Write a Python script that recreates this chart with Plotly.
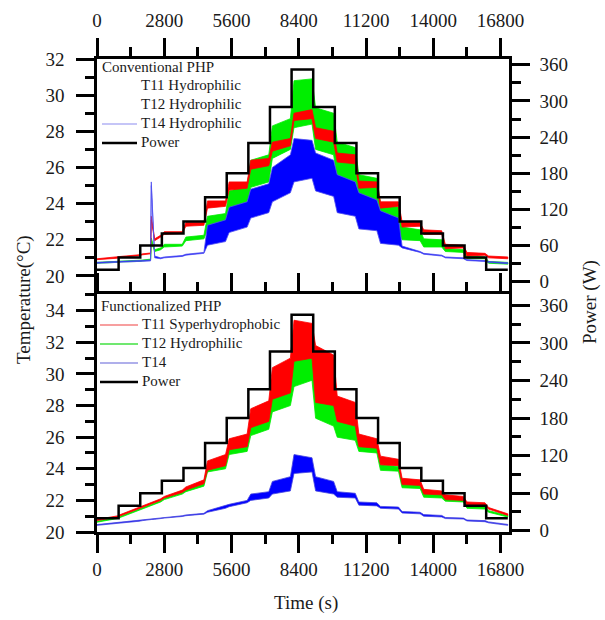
import plotly.graph_objects as go

# ---------------- data ----------------
TIME = [0, 850, 1000, 1750, 1900, 2230, 2260, 2400, 2650, 2800, 3550, 3700, 4450,
        4600, 5350, 5500, 6250, 6400, 7150, 7300, 8050, 8200, 8950, 9100, 9850,
        10000, 10750, 10900, 11650, 11800, 12550, 12700, 13450, 13600, 14350,
        14500, 15250, 15400, 16150, 16300, 17100]

# Conventional PHP (top panel) - lower / upper envelope of the noisy signals
CONV_T11_LO = [20.90, 20.98, 21.03, 21.12, 21.17, 21.22, 23.10, 21.95, 22.15, 22.30, 22.35, 22.75, 22.80,
               23.75, 23.85, 24.75, 24.85, 25.90, 26.10, 26.90, 27.20, 28.60, 28.70, 27.60, 27.40,
               26.30, 26.20, 24.85, 24.90, 23.75, 23.85, 22.70, 22.75, 22.30, 22.30, 21.50, 21.55,
               21.10, 21.15, 21.00, 20.95]
CONV_T11_HI = [20.95, 21.03, 21.08, 21.17, 21.22, 21.27, 23.30, 22.05, 22.25, 22.45, 22.45, 22.95, 22.95,
               24.15, 24.15, 25.20, 25.20, 26.40, 26.50, 27.40, 27.60, 29.00, 29.20, 28.20, 28.00,
               26.80, 26.70, 25.25, 25.20, 24.10, 24.10, 23.00, 22.95, 22.55, 22.50, 21.75, 21.70,
               21.30, 21.25, 21.10, 21.05]
CONV_T12_LO = [20.70, 20.75, 20.78, 20.80, 20.83, 20.88, 21.90, 21.35, 21.45, 21.60, 21.65, 21.95, 22.05,
               22.55, 22.70, 23.50, 23.80, 24.90, 25.20, 26.50, 27.00, 28.20, 28.40, 27.00, 26.70,
               25.30, 25.10, 24.00, 23.90, 22.60, 22.60, 22.00, 21.95, 21.60, 21.60, 21.35, 21.30,
               20.95, 20.95, 20.70, 20.65]
CONV_T12_HI = [20.75, 20.80, 20.83, 20.85, 20.88, 20.93, 22.10, 21.45, 21.55, 21.75, 21.75, 22.15, 22.25,
               23.30, 23.45, 24.70, 24.95, 26.40, 26.70, 28.30, 28.70, 30.80, 30.90, 29.30, 29.00,
               27.40, 27.10, 25.60, 25.40, 24.00, 23.80, 22.70, 22.55, 22.05, 22.00, 21.50, 21.45,
               21.10, 21.05, 20.80, 20.75]
CONV_T14_LO = [20.70, 20.75, 20.78, 20.80, 20.82, 20.83, 25.00, 21.00, 20.95, 21.00, 21.08, 21.15, 21.25,
               21.70, 21.90, 22.40, 22.70, 23.20, 23.50, 24.10, 24.60, 25.20, 25.40, 24.70, 24.40,
               23.50, 23.30, 22.60, 22.50, 21.80, 21.70, 21.55, 21.30, 21.20, 21.10, 21.00, 20.95,
               20.85, 20.80, 20.75, 20.68]
CONV_T14_HI = [20.75, 20.80, 20.83, 20.85, 20.87, 20.88, 25.20, 21.10, 21.00, 21.05, 21.13, 21.20, 21.30,
               22.80, 23.10, 23.80, 24.10, 24.80, 25.10, 26.00, 26.70, 27.60, 27.50, 26.80, 26.40,
               25.60, 25.20, 24.60, 24.20, 23.60, 23.20, 21.65, 21.35, 21.25, 21.15, 21.05, 21.00,
               20.90, 20.85, 20.80, 20.73]

# Functionalized PHP (bottom panel)
FUNC_T11_LO = [20.72, 20.95, 21.05, 21.45, 21.55, 21.75, 21.77, 21.85, 22.00, 22.15, 22.50, 22.65, 23.05,
               23.90, 24.20, 25.20, 25.40, 26.60, 27.00, 28.40, 28.80, 30.80, 31.00, 28.20, 28.00,
               27.00, 26.70, 25.40, 25.30, 24.25, 24.20, 23.00, 22.95, 22.40, 22.35, 22.05, 22.00,
               21.70, 21.65, 21.45, 21.05]
FUNC_T11_HI = [20.80, 21.02, 21.12, 21.55, 21.65, 21.82, 21.84, 21.95, 22.10, 22.25, 22.65, 22.85, 23.30,
               24.50, 24.90, 25.90, 26.20, 27.80, 28.30, 30.40, 31.00, 33.40, 33.20, 31.80, 31.20,
               28.60, 28.20, 26.20, 25.90, 24.80, 24.60, 23.40, 23.30, 22.70, 22.60, 22.35, 22.25,
               21.90, 21.85, 21.55, 21.15]
FUNC_T12_LO = [20.62, 20.85, 20.95, 21.35, 21.45, 21.65, 21.67, 21.75, 21.90, 22.05, 22.40, 22.55, 22.90,
               23.80, 24.00, 24.90, 25.10, 26.10, 26.50, 27.60, 28.00, 29.20, 29.60, 27.20, 26.70,
               26.00, 25.80, 25.10, 25.00, 23.90, 23.85, 22.80, 22.75, 22.20, 22.15, 21.95, 21.90,
               21.50, 21.45, 21.25, 20.95]
FUNC_T12_HI = [20.68, 20.92, 21.02, 21.42, 21.52, 21.72, 21.74, 21.82, 21.98, 22.13, 22.50, 22.70, 23.05,
               24.20, 24.45, 25.50, 25.70, 27.20, 27.60, 29.20, 29.80, 31.80, 31.60, 29.40, 29.00,
               27.50, 27.20, 25.70, 25.50, 24.25, 24.15, 23.10, 23.05, 22.50, 22.45, 22.20, 22.15,
               21.70, 21.65, 21.35, 21.05]
FUNC_T14_LO = [20.42, 20.55, 20.58, 20.68, 20.72, 20.78, 20.79, 20.80, 20.84, 20.88, 20.98, 21.03, 21.13,
               21.25, 21.50, 21.60, 21.85, 22.00, 22.15, 22.40, 22.60, 23.70, 23.80, 22.60, 22.40,
               22.20, 22.15, 21.70, 21.65, 21.50, 21.45, 21.20, 21.15, 21.00, 20.95, 20.85, 20.82,
               20.70, 20.65, 20.58, 20.42]
FUNC_T14_HI = [20.47, 20.60, 20.63, 20.73, 20.77, 20.83, 20.84, 20.85, 20.89, 20.93, 21.03, 21.08, 21.18,
               21.35, 21.65, 21.75, 22.00, 22.40, 22.55, 23.20, 23.50, 24.90, 24.70, 23.50, 23.20,
               22.55, 22.45, 21.90, 21.85, 21.62, 21.58, 21.30, 21.25, 21.10, 21.05, 20.92, 20.88,
               20.76, 20.72, 20.64, 20.48]

# heating power steps (W)
STEP_EDGES = [0, 900, 1800, 2700, 3600, 4500, 5400, 6300, 7200, 8100, 9000, 9900, 10800,
              11700, 12600, 13500, 14400, 15300, 16200, 17100]
POWER_CONV = [20, 40, 60, 80, 100, 140, 180, 230, 290, 352, 290, 230, 180, 140, 100, 80, 60, 40, 20]
POWER_FUNC = [20, 40, 60, 80, 100, 140, 180, 226, 286, 345, 286, 226, 180, 140, 100, 80, 60, 40, 20]

X_TICKS = [0, 2800, 5600, 8400, 11200, 14000, 16800]
X_TICKTEXT = ["0", "2800", "5600", "8400", "11200", "14000", "16800"]
P_TICKS = [0, 60, 120, 180, 240, 300, 360]

CONV_LEGEND = ["T11 Hydrophilic", "T12 Hydrophilic", "T14 Hydrophilic", "Power"]
FUNC_LEGEND = ["T11 Syperhydrophobic", "T12 Hydrophilic", "T14", "Power"]

# ---------------- figure ----------------
FONT = "Liberation Serif"
INK = "#1a1a1a"
RED, GREEN, BLUE = "#ff0000", "#00ee00", "#0000ff"

W, H = 605, 620
ML, MR, MT, MB = 97, 96, 59, 88
PW, PH = W - ML - MR, H - MT - MB


def px(xp):
    return (xp - ML) / PW


def py(yp):
    return (H - MB - yp) / PH


fig = go.Figure()


def band(t, lo, hi, color, edge, xa, ya, name):
    fig.add_trace(go.Scatter(
        x=list(t) + list(t)[::-1], y=list(hi) + list(lo)[::-1], name=name,
        mode="lines", fill="toself", fillcolor=color,
        line=dict(color=edge, width=0.8), hoverinfo="skip",
        showlegend=False, xaxis=xa, yaxis=ya))


# top panel (conventional)
band(TIME, CONV_T12_LO, CONV_T12_HI, GREEN, GREEN, "x2", "y3", CONV_LEGEND[1])
band(TIME, CONV_T11_LO, CONV_T11_HI, RED, RED, "x2", "y3", CONV_LEGEND[0])
band(TIME, CONV_T14_LO, CONV_T14_HI, BLUE, "#5050f0", "x2", "y3", CONV_LEGEND[2])
fig.add_trace(go.Scatter(x=STEP_EDGES, y=POWER_CONV + [POWER_CONV[-1]], mode="lines",
                         name="Power", line=dict(color="black", width=2.5, shape="hv"),
                         showlegend=False, xaxis="x2", yaxis="y4"))

# bottom panel (functionalized)
band(TIME, FUNC_T12_LO, FUNC_T12_HI, GREEN, GREEN, "x", "y", FUNC_LEGEND[1])
band(TIME, FUNC_T11_LO, FUNC_T11_HI, RED, RED, "x", "y", FUNC_LEGEND[0])
band(TIME, FUNC_T14_LO, FUNC_T14_HI, BLUE, "#4848e0", "x", "y", FUNC_LEGEND[2])
fig.add_trace(go.Scatter(x=STEP_EDGES, y=POWER_FUNC + [POWER_FUNC[-1]], mode="lines",
                         name="Power", line=dict(color="black", width=2.5, shape="hv"),
                         showlegend=False, xaxis="x", yaxis="y2"))

# ---- legends (drawn as text + sample lines, tight row spacing like the original) ----
annotations = []
shapes = []


def legend_block(title, title_xy, names, colors, widths, text_x, line_x, rows_y):
    annotations.append(dict(text=title, xref="paper", yref="paper", x=px(title_xy[0]), y=py(title_xy[1]),
                            xanchor="left", yanchor="middle", showarrow=False,
                            font=dict(family=FONT, size=15, color=INK)))
    for name, col, wd, yy in zip(names, colors, widths, rows_y):
        annotations.append(dict(text=name, xref="paper", yref="paper", x=px(text_x), y=py(yy),
                                xanchor="left", yanchor="middle", showarrow=False,
                                font=dict(family=FONT, size=15, color=INK)))
        if col is not None:
            shapes.append(dict(type="line", xref="paper", yref="paper",
                               x0=px(line_x[0]), x1=px(line_x[1]), y0=py(yy + 1), y1=py(yy + 1),
                               line=dict(color=col, width=wd)))


legend_block("Conventional PHP", (100, 67), CONV_LEGEND,
             [None, None, "#8c8cf0", "black"], [1, 1, 1.2, 2.5],
             139, (102, 137), [85, 104, 123, 142])
legend_block("Functionalized PHP", (99, 306), FUNC_LEGEND,
             ["#f04040", "#40e040", "#6060d8", "black"], [1.2, 1.5, 1.2, 2.5],
             140, (100, 138), [324, 343, 362, 381])

annotations += [
    dict(text="Temperature(°C)", xref="paper", yref="paper", x=px(24), y=py(300),
         xanchor="center", yanchor="middle", textangle=-90, showarrow=False,
         font=dict(family=FONT, size=19, color=INK)),
    dict(text="Power (W)", xref="paper", yref="paper", x=px(590), y=py(302),
         xanchor="center", yanchor="middle", textangle=-90, showarrow=False,
         font=dict(family=FONT, size=19, color=INK)),
    dict(text="Time (s)", xref="paper", yref="paper", x=px(306), y=py(603),
         xanchor="center", yanchor="middle", showarrow=False,
         font=dict(family=FONT, size=19, color=INK)),
]

SPLIT = py(294)
tickfont = dict(family=FONT, size=19, color=INK)
common = dict(showline=True, linewidth=2.5, linecolor="black", ticks="outside",
              ticklen=18, tickwidth=2.5, tickcolor="black", showgrid=False,
              zeroline=False, tickfont=tickfont, automargin=False)
minor_x = dict(dtick=1400, tick0=0, ticklen=9, tickwidth=2.5, ticks="outside", tickcolor="black")
minor_t = dict(dtick=1, tick0=20, ticklen=9, tickwidth=2.5, ticks="outside", tickcolor="black")
minor_p = dict(dtick=30, tick0=0, ticklen=9, tickwidth=2.5, ticks="outside", tickcolor="black")

fig.update_layout(
    width=W, height=H, plot_bgcolor="white", paper_bgcolor="white",
    margin=dict(l=ML, r=MR, t=MT, b=MB),
    font=dict(family=FONT, color=INK),
    showlegend=False,
    xaxis=dict(domain=[0, 1], anchor="y", range=[0, 17150], tickvals=X_TICKS, ticktext=X_TICKTEXT,
               mirror="ticks", minor=minor_x, ticklabelstandoff=0, **common),
    xaxis2=dict(domain=[0, 1], anchor="y3", side="top", range=[0, 17150], tickvals=X_TICKS,
                ticktext=X_TICKTEXT, minor=minor_x, ticklabelstandoff=4, **common),
    yaxis=dict(domain=[0, SPLIT], anchor="x", range=[20, 35.06], dtick=2, tick0=20,
               minor=minor_t, ticklabelstandoff=8, **common),
    yaxis2=dict(anchor="x", overlaying="y", side="right", range=[-2, 378], tickvals=P_TICKS,
                minor=minor_p, ticklabelstandoff=6, **common),
    yaxis3=dict(domain=[SPLIT, 1], anchor="x2", range=[19, 32], dtick=2, tick0=20,
                minor=minor_t, ticklabelstandoff=8, **common),
    yaxis4=dict(anchor="x2", overlaying="y3", side="right", range=[-20.4, 369.6], tickvals=P_TICKS,
                minor=minor_p, ticklabelstandoff=6, **common),
    annotations=annotations,
    shapes=shapes,
)

fig.write_html("out.html", config={"displayModeBar": False},
               post_script="document.body.style.margin='0px';")
